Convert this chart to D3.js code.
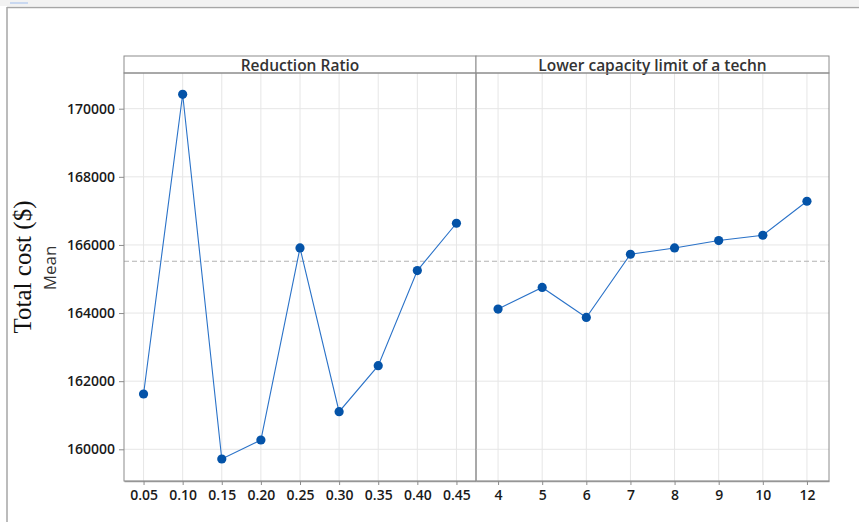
<!DOCTYPE html>
<html>
<head>
<meta charset="utf-8">
<script src="https://cdn.jsdelivr.net/npm/d3@7"></script>
<style>
  body { margin: 0; background: #fff; }
  svg { display: block; }
</style>
</head>
<body>
<svg id="chart"></svg>
<script>
// Main effects data
const ratioLevels = ["0.05", "0.10", "0.15", "0.20", "0.25", "0.30", "0.35", "0.40", "0.45"];
const ratioMeans = [161624, 170423, 159715, 160273, 165912, 161104, 162454, 165248, 166637];
const limitLevels = ["4", "5", "6", "7", "8", "9", "10", "12"];
const limitMeans = [164117, 164752, 163871, 165727, 165912, 166129, 166285, 167283];
const grandMean = 165521;
const yTicks = [160000, 162000, 164000, 166000, 168000, 170000];
const panelTitles = ["Reduction Ratio", "Lower capacity limit of a techn"];

const width = 859;
const height = 522;
const plotTop = 73;
const plotBottom = 481;
const stripTop = 56;
const panelEdges = [124, 476, 829];

const svg = d3.select("#chart").attr("width", width).attr("height", height);

// window-ish frame
svg.append("rect").attr("x", 0).attr("y", 0).attr("width", width).attr("height", 6).attr("fill", "#f2f2f2");
svg.append("rect").attr("x", 10).attr("y", 2).attr("width", 18).attr("height", 2).attr("fill", "#c9d8f0");
svg.append("line").attr("x1", 7).attr("x2", width).attr("y1", 7.5).attr("y2", 7.5)
  .attr("stroke", "#a6a6a6").attr("stroke-width", 1.5);
svg.append("line").attr("x1", 7).attr("x2", 7).attr("y1", 7).attr("y2", height)
  .attr("stroke", "#a6a6a6").attr("stroke-width", 1.5);

const y = d3.scaleLinear()
  .domain([160000, 170000])
  .range([449.3, 108.7]);

const panels = [
  { levels: ratioLevels, means: ratioMeans, title: panelTitles[0], x0: panelEdges[0], x1: panelEdges[1] },
  { levels: limitLevels, means: limitMeans, title: panelTitles[1], x0: panelEdges[1], x1: panelEdges[2] }
];

panels.forEach(function (p, idx) {
  const x = d3.scalePoint().domain(p.levels).range([p.x0, p.x1]).padding(0.5);
  const g = svg.append("g");

  // gridlines
  g.selectAll(".vgrid").data(p.levels).enter().append("line")
    .attr("x1", (d) => x(d)).attr("x2", (d) => x(d))
    .attr("y1", plotTop).attr("y2", plotBottom)
    .attr("stroke", "#e6e6e6").attr("stroke-width", 1);
  g.selectAll(".hgrid").data(yTicks).enter().append("line")
    .attr("x1", p.x0).attr("x2", p.x1)
    .attr("y1", (d) => y(d)).attr("y2", (d) => y(d))
    .attr("stroke", "#e6e6e6").attr("stroke-width", 1);

  // mean reference line
  g.append("line")
    .attr("x1", p.x0).attr("x2", p.x1)
    .attr("y1", y(grandMean)).attr("y2", y(grandMean))
    .attr("stroke", "#b3b3b3").attr("stroke-width", 1)
    .attr("stroke-dasharray", "5,3");

  // x axis
  const xAxis = d3.axisBottom(x).tickSize(4).tickSizeOuter(0);
  const ax = g.append("g").attr("transform", `translate(0,${plotBottom})`).call(xAxis);
  ax.select(".domain").attr("stroke", "#a0a0a0").attr("stroke-width", 1.5);
  ax.selectAll(".tick line").attr("stroke", "#8c8c8c");
  ax.selectAll("text")
    .attr("dy", "0.85em")
    .style("font-family", "'Open Sans', sans-serif")
    .style("font-size", "14px")
    .style("font-weight", 600)
    .attr("fill", "#1a1a1a");

  // strip
  g.append("rect")
    .attr("x", p.x0).attr("y", stripTop)
    .attr("width", p.x1 - p.x0).attr("height", plotTop - stripTop)
    .attr("fill", "#fff").attr("stroke", "#8c8c8c").attr("stroke-width", 1);
  g.append("text")
    .attr("x", (p.x0 + p.x1) / 2).attr("y", stripTop + 14.5)
    .attr("text-anchor", "middle")
    .style("font-family", "'Open Sans', sans-serif")
    .style("font-size", "15.5px")
    .style("font-weight", 600)
    .attr("fill", "#333")
    .text(p.title);

  // panel border
  g.append("rect")
    .attr("x", p.x0).attr("y", plotTop)
    .attr("width", p.x1 - p.x0).attr("height", plotBottom - plotTop)
    .attr("fill", "none").attr("stroke", "#8c8c8c").attr("stroke-width", 1);

  // line + points
  const line = d3.line().x((d, i) => x(p.levels[i])).y((d) => y(d));
  g.append("path").datum(p.means)
    .attr("d", line).attr("fill", "none")
    .attr("stroke", "#2a72c8").attr("stroke-width", 1.1);
  g.selectAll(".pt").data(p.means).enter().append("circle")
    .attr("cx", (d, i) => x(p.levels[i])).attr("cy", (d) => y(d))
    .attr("r", 4.6).attr("fill", "#0453a8");

  if (idx === 0) {
    const yAxis = d3.axisLeft(y).tickValues(yTicks).tickFormat(d3.format("d")).tickSize(5).tickSizeOuter(0);
    const ay = svg.append("g").attr("transform", `translate(${p.x0},0)`).call(yAxis);
    ay.select(".domain").remove();
    ay.selectAll(".tick line").attr("stroke", "#8c8c8c");
    ay.selectAll("text")
      .attr("x", -9)
      .style("font-family", "'Open Sans', sans-serif")
      .style("font-size", "14px")
      .style("font-weight", 600)
      .attr("fill", "#1a1a1a");
  }
});

// y labels
svg.append("text")
  .attr("transform", "translate(56,268) rotate(-90)")
  .attr("text-anchor", "middle")
  .style("font-family", "'Open Sans', sans-serif")
  .style("font-size", "17px")
  .attr("fill", "#333")
  .text("Mean");
svg.append("text")
  .attr("transform", "translate(31,267) rotate(-90)")
  .attr("text-anchor", "middle")
  .style("font-family", "'Liberation Serif', 'Times New Roman', serif")
  .style("font-size", "25px")
  .attr("fill", "#111")
  .text("Total cost ($)");
</script>
</body>
</html>
